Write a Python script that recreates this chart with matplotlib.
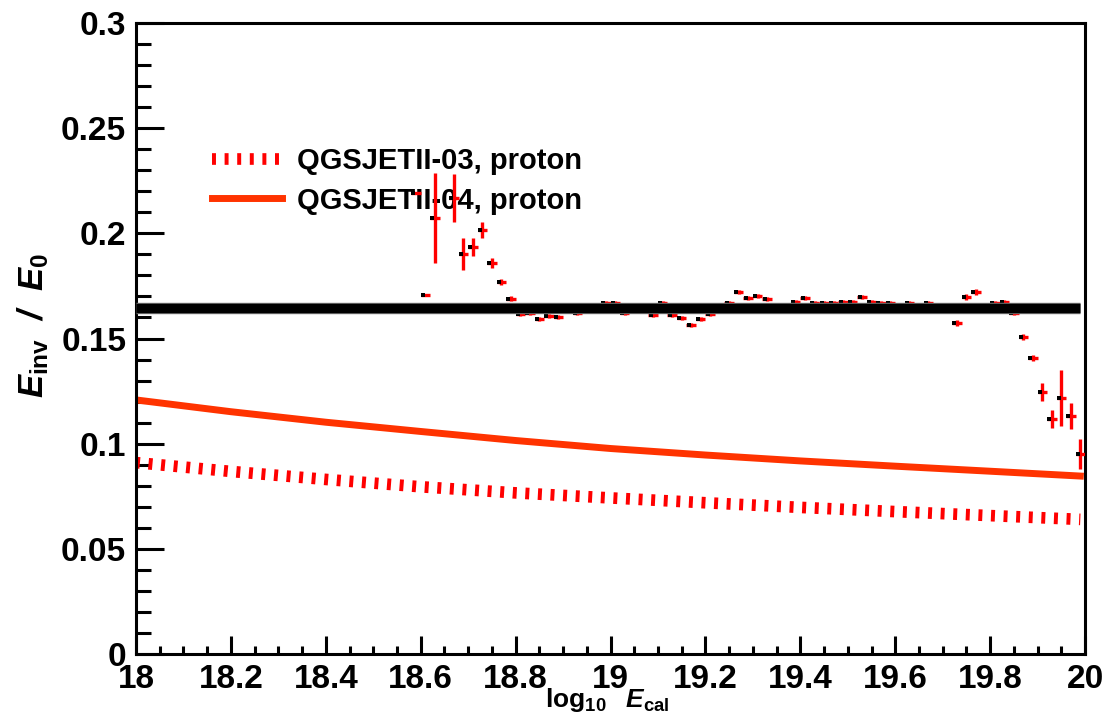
import numpy as np
import matplotlib
matplotlib.use("Agg")
import matplotlib.pyplot as plt
import matplotlib.transforms as mtransforms
from matplotlib.ticker import MultipleLocator, FormatStrFormatter

plt.rcParams["font.family"] = ["Liberation Sans", "DejaVu Sans"]
plt.rcParams["font.weight"] = "bold"
plt.rcParams["mathtext.fontset"] = "custom"
plt.rcParams["mathtext.rm"] = "Liberation Sans:bold"
plt.rcParams["mathtext.it"] = "Liberation Sans:bold:italic"
plt.rcParams["mathtext.bf"] = "Liberation Sans:bold"

# measured ratio per log10(E_cal) bin
bin_x = [18.59, 18.61, 18.63, 18.67, 18.69, 18.71, 18.73, 18.75, 18.77, 18.79,
         18.81, 18.83, 18.85, 18.87, 18.89, 18.93, 18.99, 19.01, 19.03, 19.09,
         19.11, 19.13, 19.15, 19.17, 19.19, 19.21, 19.25, 19.27, 19.29, 19.31,
         19.33, 19.39, 19.41, 19.43, 19.45, 19.47, 19.49, 19.51, 19.53, 19.55,
         19.57, 19.59, 19.63, 19.67, 19.73, 19.75, 19.77, 19.81, 19.83, 19.85,
         19.87, 19.89, 19.91, 19.93, 19.95, 19.97, 19.99]
ratio = [0.2192, 0.1707, 0.2073, 0.2168, 0.1902, 0.1935, 0.2016, 0.1859, 0.1769, 0.1688,
         0.1617, 0.1622, 0.1593, 0.1607, 0.1602, 0.1620, 0.1668, 0.1668, 0.1622, 0.1612,
         0.1668, 0.1612, 0.1598, 0.1564, 0.1593, 0.1617, 0.1669, 0.1721, 0.1693, 0.1703,
         0.1688, 0.1674, 0.1693, 0.1669, 0.1669, 0.1669, 0.1674, 0.1674, 0.1698, 0.1674,
         0.1669, 0.1669, 0.1669, 0.1669, 0.1574, 0.1698, 0.1721, 0.1669, 0.1674, 0.1622,
         0.1507, 0.1408, 0.1246, 0.1117, 0.1217, 0.1132, 0.0951]
ratio_err = [0.0005, 0.0006, 0.0214, 0.0112, 0.0076, 0.0043, 0.0040, 0.0026, 0.0016, 0.0012,
             0.0010, 0.0010, 0.0010, 0.0010, 0.0010, 0.0010, 0.0010, 0.0010, 0.0010, 0.0010,
             0.0010, 0.0010, 0.0010, 0.0010, 0.0010, 0.0010, 0.0010, 0.0010, 0.0010, 0.0010,
             0.0010, 0.0010, 0.0010, 0.0010, 0.0010, 0.0010, 0.0010, 0.0010, 0.0010, 0.0010,
             0.0010, 0.0010, 0.0010, 0.0010, 0.0015, 0.0015, 0.0015, 0.0010, 0.0010, 0.0012,
             0.0013, 0.0015, 0.0043, 0.0043, 0.0131, 0.0062, 0.0070]
bin_half_width = 0.01

# constant fit
fit_value = 0.1645
fit_range = [18.0, 19.99]

# model curves
model_x = [18.0, 18.2, 18.4, 18.6, 18.8, 19.0, 19.2, 19.4, 19.6, 19.8, 19.99]
qgs03 = [0.0910, 0.0868, 0.0830, 0.0795, 0.0766, 0.0742, 0.0719, 0.0697, 0.0677, 0.0658, 0.0640]
qgs04 = [0.1208, 0.1152, 0.1102, 0.1058, 0.1015, 0.0977, 0.0946, 0.0918, 0.0893, 0.0869, 0.0846]

fig = plt.figure(figsize=(11.09, 7.22), dpi=100)
ax = fig.add_axes([0.1226, 0.0942, 0.8558, 0.8739])

l03, = ax.plot(model_x, qgs03, color="#ff0000", lw=8.4, ls=(0, (0.34, 0.74)),
               dash_capstyle="butt", zorder=2, label="QGSJETII-03, proton")
l04, = ax.plot(model_x, qgs04, color="#ff3300", lw=5.0, zorder=2,
               label="QGSJETII-04, proton")

ax.errorbar(bin_x, ratio, xerr=bin_half_width, yerr=ratio_err, fmt="none",
            ecolor="#ff0000", elinewidth=2.4, capsize=0, zorder=4)
shift = mtransforms.offset_copy(ax.transData, fig=fig, x=-2.5, y=0, units="dots")
ax.plot(bin_x, ratio, ls="none", marker="s", ms=3.0, mfc="black", mec="black",
        mew=0, transform=shift, zorder=4.5)

ax.plot(fit_range, [fit_value] * 2, color="#777777", lw=8.2, solid_capstyle="butt", zorder=5)
ax.plot(fit_range, [fit_value] * 2, color="black", lw=6.8, solid_capstyle="butt", zorder=5.1)

ax.set_xlim(18, 20)
ax.set_ylim(0, 0.3)
ax.xaxis.set_major_locator(MultipleLocator(0.2))
ax.xaxis.set_minor_locator(MultipleLocator(0.05))
ax.yaxis.set_major_locator(MultipleLocator(0.05))
ax.yaxis.set_minor_locator(MultipleLocator(0.01))
ax.xaxis.set_major_formatter(FormatStrFormatter("%g"))
ax.yaxis.set_major_formatter(FormatStrFormatter("%g"))

for side in ax.spines.values():
    side.set_linewidth(2.2)
ax.tick_params(axis="both", which="both", direction="in", width=2.2,
               top=False, right=False, labelsize=24)
ax.tick_params(axis="x", which="major", length=13, pad=7)
ax.tick_params(axis="x", which="minor", length=6)
ax.tick_params(axis="y", which="major", length=20, pad=7)
ax.tick_params(axis="y", which="minor", length=11)
for lab in ax.get_xticklabels() + ax.get_yticklabels():
    lab.set_fontweight("bold")

leg = ax.legend(handles=[l03, l04], loc="upper left",
                bbox_to_anchor=(212 / 1109, 1 - 147 / 722), bbox_transform=fig.transFigure,
                frameon=False, fontsize=21, handlelength=2.4, handletextpad=0.5,
                labelspacing=0.4, borderpad=0, borderaxespad=0)
leg.set_zorder(3)

fig.text(33 / 1109, 1 - 325 / 722, r"$E_{\mathrm{inv}}$  /  $E_{0}$", rotation=90,
         fontsize=25, ha="center", va="center", style="italic")
fig.text(607 / 1109, 1 - 707 / 722, r"$\mathrm{log}_{10}\;\;\;E_{\mathrm{cal}}$",
         fontsize=19, ha="center", va="baseline")

fig.savefig("out.png", dpi=100)
